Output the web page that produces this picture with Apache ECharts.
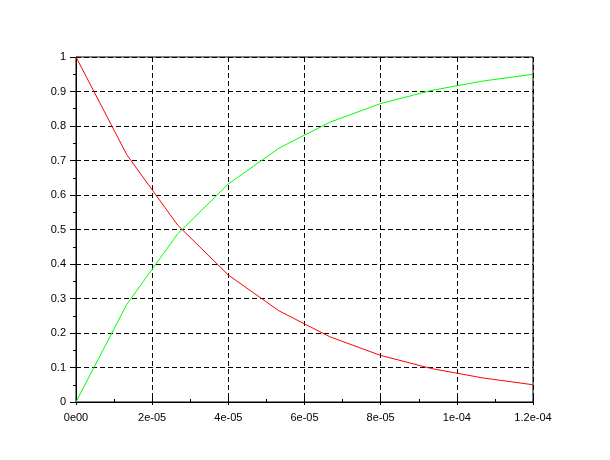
<!DOCTYPE html>
<html>
<head>
<meta charset="utf-8">
<script src="https://cdn.jsdelivr.net/npm/echarts@6/dist/echarts.min.js"></script>
<style>html,body{margin:0;padding:0;background:#fff}#c{width:610px;height:460px}</style>
</head>
<body>
<div id="c"></div>
<script>
var tValues = [0, 1.333e-5, 2.667e-5, 4.0e-5, 5.333e-5, 6.667e-5, 8.0e-5, 9.333e-5, 1.0667e-4, 1.2e-4];
var redValues = [1, 0.717, 0.513, 0.368, 0.264, 0.189, 0.135, 0.097, 0.070, 0.050];
var greenValues = [0, 0.283, 0.487, 0.632, 0.736, 0.811, 0.865, 0.903, 0.930, 0.950];
var xTickLabels = ["0e00", "2e-05", "4e-05", "6e-05", "8e-05", "1e-04", "1.2e-04"];
var yTickLabels = ["0", "0.1", "0.2", "0.3", "0.4", "0.5", "0.6", "0.7", "0.8", "0.9", "1"];

function pairs(xs, ys) { return xs.map(function (x, i) { return [x, ys[i]]; }); }

var font = { fontFamily: 'Liberation Sans, Arial, sans-serif', fontSize: 11, color: '#000' };
var chart = echarts.init(document.getElementById('c'), null, { renderer: 'canvas' });
var xBase = { type: 'value', min: 0, max: 1.2e-4, interval: 2e-5, position: 'bottom' };
var yBase = { type: 'value', min: 0, max: 1, interval: 0.1, position: 'left' };
chart.setOption({
  animation: false,
  backgroundColor: '#fff',
  grid: { left: 76, top: 57, right: 77, bottom: 58, show: true, borderColor: '#000', borderWidth: 1, backgroundColor: 'transparent' },
  xAxis: [
    Object.assign({}, xBase, {
      axisLine: { show: true, lineStyle: { color: '#000', width: 1 } },
      axisTick: { show: true, inside: true, length: 4, lineStyle: { color: '#000' } },
      minorTick: { show: true, splitNumber: 2, length: 3, lineStyle: { color: '#000' } },
      axisLabel: Object.assign({ margin: 10, formatter: function (v) { return xTickLabels[Math.round(v / 2e-5)]; } }, font),
      splitLine: { show: true, lineStyle: { color: '#000', type: [5, 3], width: 1 } }
    }),
    Object.assign({}, xBase, {
      axisLine: { show: false },
      axisTick: { show: true, inside: false, length: 3, lineStyle: { color: '#000' } },
      axisLabel: { show: false },
      splitLine: { show: false }
    })
  ],
  yAxis: [
    Object.assign({}, yBase, {
      axisLine: { show: true, lineStyle: { color: '#000', width: 1 } },
      axisTick: { show: true, inside: false, length: 6, lineStyle: { color: '#000' } },
      minorTick: { show: true, splitNumber: 2, length: 3, lineStyle: { color: '#000' } },
      axisLabel: Object.assign({ margin: 10, formatter: function (v) { return yTickLabels[Math.round(v * 10)]; } }, font),
      splitLine: { show: true, lineStyle: { color: '#000', type: [5, 3], width: 1 } }
    }),
    Object.assign({}, yBase, {
      axisLine: { show: false },
      axisTick: { show: true, inside: true, length: 4, lineStyle: { color: '#000' } },
      axisLabel: { show: false },
      splitLine: { show: false }
    })
  ],
  series: [
    { type: 'line', xAxisIndex: 0, yAxisIndex: 0, data: pairs(tValues, redValues), showSymbol: false, symbol: 'none', lineStyle: { color: '#ff0000', width: 1 }, itemStyle: { color: '#ff0000' }, z: 3 },
    { type: 'line', xAxisIndex: 0, yAxisIndex: 0, data: pairs(tValues, greenValues), showSymbol: false, symbol: 'none', lineStyle: { color: '#00ff00', width: 1 }, itemStyle: { color: '#00ff00' }, z: 3 }
  ]
});
</script>
</body>
</html>
